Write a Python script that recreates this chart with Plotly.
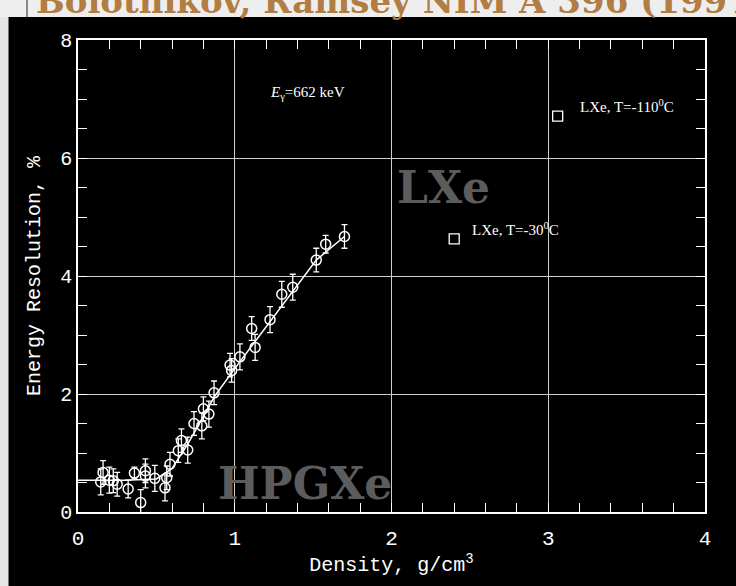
import plotly.graph_objects as go

# Measured energy resolution of Xe vs density (662 keV gammas)
density = [0.145, 0.16, 0.20, 0.225, 0.25, 0.32, 0.36, 0.40, 0.43, 0.43, 0.49,
           0.555, 0.566, 0.587, 0.64, 0.66, 0.70, 0.74, 0.79, 0.80, 0.835, 0.868,
           0.97, 0.98, 1.033, 1.108, 1.13, 1.225, 1.30, 1.37, 1.52, 1.58, 1.70]
resolution = [0.51, 0.67, 0.54, 0.53, 0.47, 0.39, 0.66, 0.16, 0.70, 0.61, 0.57,
              0.41, 0.58, 0.81, 1.04, 1.21, 1.05, 1.50, 1.46, 1.75, 1.66, 2.02,
              2.49, 2.40, 2.63, 3.11, 2.79, 3.26, 3.69, 3.81, 4.27, 4.54, 4.67]
res_err = [0.22, 0.20, 0.22, 0.20, 0.20, 0.15, 0.10, 0.22, 0.20, 0.20, 0.22,
           0.22, 0.20, 0.20, 0.20, 0.20, 0.22, 0.20, 0.22, 0.20, 0.22, 0.20,
           0.20, 0.20, 0.22, 0.20, 0.22, 0.22, 0.22, 0.22, 0.20, 0.15, 0.20]

# Guide curve through the high-pressure gas points
fit_density = [0.0, 0.3, 0.5, 0.6, 0.7, 0.874, 1.0, 1.2, 1.4, 1.52, 1.7]
fit_resolution = [0.54, 0.54, 0.56, 0.74, 1.15, 1.97, 2.43, 3.13, 3.84, 4.27, 4.67]

# Liquid xenon points
lxe_density = [3.06, 2.40]
lxe_resolution = [6.71, 4.63]

W, H = 736, 586
L, R, T, B = 78, 31, 40, 74
plot_w, plot_h = W - L - R, H - T - B


def px_x(p):
    return (p - L) / plot_w


def px_y(p):
    return (H - B - p) / plot_h


fig = go.Figure()

fig.add_trace(go.Scatter(
    x=fit_density, y=fit_resolution, mode="lines",
    line=dict(color="white", width=1.5), hoverinfo="skip", showlegend=False))

fig.add_trace(go.Scatter(
    x=density, y=resolution, mode="markers",
    marker=dict(symbol="circle-open", size=10, color="white", line=dict(width=1.5)),
    error_y=dict(type="data", array=res_err, visible=True, color="white",
                 thickness=1.3, width=3),
    showlegend=False))

fig.add_trace(go.Scatter(
    x=lxe_density, y=lxe_resolution, mode="markers",
    marker=dict(symbol="square-open", size=10, color="white", line=dict(width=1.3)),
    showlegend=False))

grid = "#d0d0d0"
fig.update_xaxes(
    range=[0, 4], tick0=0, dtick=1, showgrid=True, gridcolor=grid, gridwidth=1.3,
    zeroline=False, showline=True, linecolor="white", linewidth=1.5, mirror="allticks",
    ticks="inside", ticklen=9, tickwidth=1.2, tickcolor="white",
    minor=dict(dtick=0.2, ticks="inside", ticklen=9, tickwidth=1.2,
               tickcolor="white", showgrid=False),
    tickfont=dict(family="Liberation Mono", size=21, color="white"),
    ticklabelstandoff=6,
    title=dict(text="Density, g/cm<sup>3</sup>",
               font=dict(family="Liberation Mono", size=20, color="white"),
               standoff=7))
fig.update_yaxes(
    range=[0, 8], tick0=0, dtick=2, showgrid=True, gridcolor=grid, gridwidth=1.3,
    zeroline=False, showline=True, linecolor="white", linewidth=1.5, mirror="allticks",
    ticks="inside", ticklen=9, tickwidth=1.2, tickcolor="white",
    minor=dict(dtick=0.5, ticks="inside", ticklen=9, tickwidth=1.2,
               tickcolor="white", showgrid=False),
    tickfont=dict(family="Liberation Mono", size=20, color="white"),
    title=dict(text="Energy Resolution, %",
               font=dict(family="Liberation Mono", size=20, color="white"),
               standoff=14))

ann = [
    dict(x=1.21, y=7.11, text="<i>E</i><sub>γ</sub>=662 keV", xanchor="left",
         font=dict(family="Liberation Serif", size=15, color="white")),
    dict(x=3.19, y=6.88, text="LXe, T=-110<sup>0</sup>C", xanchor="left",
         font=dict(family="Liberation Serif", size=15, color="white")),
    dict(x=2.50, y=4.80, text="LXe, T=-30<sup>0</sup>C", xanchor="left",
         font=dict(family="Liberation Serif", size=15, color="white")),
    dict(x=2.33, y=5.50, text="<b>LXe</b>",
         font=dict(family="DejaVu Serif", size=44, color="#5c5c5c")),
    dict(x=1.45, y=0.49, text="<b>HPGXe</b>",
         font=dict(family="DejaVu Serif", size=44, color="#5c5c5c")),
]
for a in ann:
    a.update(xref="x", yref="y", showarrow=False)
    fig.add_annotation(**a)

# citation heading along the top edge
fig.add_annotation(
    xref="paper", yref="paper", x=px_x(34), y=px_y(23), xanchor="left",
    yanchor="bottom", showarrow=False,
    text="<b>Bolotnikov, Ramsey NIM A 396 (1997)</b>",
    font=dict(family="DejaVu Serif", size=34, color="#b27d42"))

# light page margins around the dark figure
fig.add_shape(type="rect", xref="paper", yref="paper", layer="below",
              x0=px_x(0), x1=px_x(8.5), y0=px_y(H), y1=px_y(0),
              fillcolor="#e6e6e6", line=dict(width=0))
fig.add_shape(type="rect", xref="paper", yref="paper", layer="below",
              x0=px_x(0), x1=px_x(W), y0=px_y(17), y1=px_y(0),
              fillcolor="#eeeeee", line=dict(width=0))
fig.add_shape(type="line", xref="paper", yref="paper", layer="below",
              x0=px_x(27), x1=px_x(27), y0=px_y(17), y1=px_y(0),
              line=dict(color="#8a8a8a", width=2))

fig.update_layout(
    width=W, height=H, margin=dict(l=L, r=R, t=T, b=B),
    paper_bgcolor="black", plot_bgcolor="black", showlegend=False)

fig.write_html("out.html")
